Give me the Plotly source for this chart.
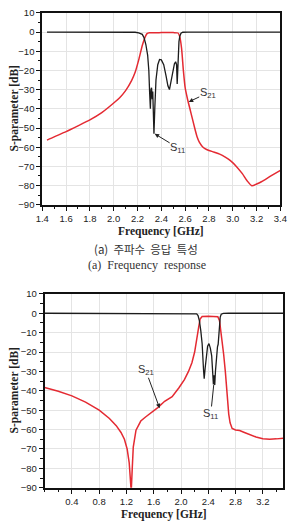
import plotly.graph_objects as go

# ---------------- data: (a) top chart ----------------
top_s21_f = [1.44, 1.5, 1.6, 1.7, 1.8, 1.9, 2.0, 2.05, 2.1, 2.15, 2.18, 2.21, 2.24, 2.26, 2.28, 2.3,
             2.4, 2.5, 2.54, 2.555, 2.57, 2.585, 2.60, 2.62, 2.64, 2.66, 2.68, 2.70, 2.72, 2.75, 2.78,
             2.84, 2.89, 2.94, 2.98, 3.03, 3.08, 3.12, 3.16, 3.2, 3.24, 3.32, 3.4]
top_s21_db = [-56.3, -54.6, -51.9, -48.9, -45.8, -42.0, -37.0, -34.2, -30.5, -25.3, -21.0, -14.5, -7.0,
              -3.2, -0.8, -0.4, -0.3, -0.3, -0.5, -2.5, -8.5, -20.0, -29.0, -35.0, -40.0, -45.0, -50.0,
              -54.5, -57.5, -60.0, -61.2, -62.5, -63.6, -65.3, -67.0, -70.0, -73.8, -77.5, -80.1, -79.2,
              -78.0, -75.0, -72.1]

top_s11_f = [1.44, 2.0, 2.18, 2.21, 2.24, 2.255, 2.27, 2.285, 2.295, 2.302, 2.308, 2.313, 2.318, 2.323,
             2.328, 2.333, 2.338, 2.345, 2.355, 2.37, 2.385, 2.40, 2.42, 2.44, 2.455, 2.468, 2.48, 2.495,
             2.51, 2.52, 2.528, 2.533, 2.537, 2.541, 2.548, 2.555, 2.565, 2.58, 2.62, 3.4]
top_s11_db = [0, 0, -0.1, -0.4, -1.2, -3.0, -6.5, -12.0, -20.0, -32.0, -40.0, -30.0, -29.0, -35.0,
              -31.0, -42.0, -53.0, -40.0, -25.0, -17.0, -14.3, -14.5, -17.0, -23.0, -28.0, -30.0, -26.0,
              -20.0, -16.5, -15.5, -17.0, -27.0, -20.0, -12.0, -5.0, -2.2, -0.6, -0.1, 0, 0]

# ---------------- data: bottom chart ----------------
bot_s21_f = [0.0, 0.2, 0.4, 0.6, 0.8, 0.95, 1.05, 1.12, 1.17, 1.21, 1.24, 1.255, 1.27, 1.285, 1.29,
             1.30, 1.34, 1.41, 1.48, 1.56, 1.66, 1.76, 1.87, 1.97, 2.05, 2.11, 2.16, 2.2, 2.235, 2.26,
             2.28, 2.31, 2.4, 2.5, 2.54, 2.565, 2.58, 2.60, 2.625, 2.65, 2.68, 2.70, 2.72, 2.75, 2.8,
             2.86, 2.93, 3.0, 3.1, 3.2, 3.3, 3.4, 3.5]
bot_s21_db = [-38.3, -40.2, -42.6, -45.8, -50.0, -54.3, -58.0, -61.5, -65.0, -70.0, -77.0, -84.0, -92.0,
              -80.0, -74.0, -69.0, -60.3, -55.6, -53.5, -51.3, -48.7, -45.4, -43.0, -38.4, -34.2, -30.0,
              -25.5, -20.0, -13.5, -7.0, -3.0, -1.7, -1.5, -1.5, -1.8, -3.9, -8.0, -13.0, -21.0, -30.0,
              -44.0, -52.0, -56.5, -59.4, -60.2, -60.5, -61.5, -62.5, -63.8, -64.7, -65.0, -64.8, -64.5]

bot_s11_f = [0.0, 2.2, 2.23, 2.25, 2.27, 2.29, 2.31, 2.33, 2.34, 2.355, 2.37, 2.39, 2.41, 2.43, 2.45,
             2.465, 2.475, 2.485, 2.495, 2.505, 2.52, 2.535, 2.545, 2.555, 2.565, 2.575, 2.59, 2.62,
             2.7, 3.5]
bot_s11_db = [0, 0, -0.3, -1.2, -3.9, -9.0, -15.7, -29.0, -33.8, -28.0, -22.0, -17.0, -15.7, -18.0,
              -22.0, -30.0, -36.7, -32.0, -37.0, -30.0, -20.0, -17.3, -16.0, -10.6, -5.0, -2.0, -0.5,
              -0.1, 0, 0]

top_xticks = [1.4, 1.6, 1.8, 2.0, 2.2, 2.4, 2.6, 2.8, 3.0, 3.2, 3.4]
bot_xticks = [0.4, 0.8, 1.2, 1.6, 2.0, 2.4, 2.8, 3.2]
yticks = [10, 0, -10, -20, -30, -40, -50, -60, -70, -80, -90]

RED = "#e42a32"
BLACK = "#1c1c1c"

fig = go.Figure()
fig.add_trace(go.Scatter(x=top_s21_f, y=top_s21_db, mode="lines",
                         line=dict(color=RED, width=1.5, shape="spline", smoothing=0.6),
                         xaxis="x", yaxis="y", showlegend=False))
fig.add_trace(go.Scatter(x=top_s11_f, y=top_s11_db, mode="lines",
                         line=dict(color=BLACK, width=1.3),
                         xaxis="x", yaxis="y", showlegend=False))
fig.add_trace(go.Scatter(x=bot_s21_f, y=bot_s21_db, mode="lines",
                         line=dict(color=RED, width=1.5),
                         xaxis="x2", yaxis="y2", showlegend=False))
fig.add_trace(go.Scatter(x=bot_s11_f, y=bot_s11_db, mode="lines",
                         line=dict(color=BLACK, width=1.3),
                         xaxis="x2", yaxis="y2", showlegend=False))

H, W = 527, 296
tickfont = dict(family="Arial", size=9.5, color="#222")
common_axis = dict(showline=True, linecolor="#111", linewidth=1.8, mirror=True,
                   ticks="outside", ticklen=4, tickwidth=1.2, tickcolor="#111",
                   showgrid=True, gridcolor="#e4e4e4", gridwidth=1, zeroline=False,
                   tickfont=tickfont)

fig.update_layout(
    width=W, height=H, margin=dict(l=0, r=0, t=0, b=0),
    paper_bgcolor="white", plot_bgcolor="white",
    xaxis=dict(domain=[37 / W, 287 / W], range=[1.4, 3.4], anchor="y",
               tickvals=top_xticks, tickformat=".1f",
               minor=dict(dtick=0.1, tick0=1.4, ticks="outside", ticklen=2.5, tickcolor="#111", showgrid=False),
               **common_axis),
    yaxis=dict(domain=[1 - 203 / H, 1 - 7 / H], range=[-90, 10], anchor="x",
               tickvals=yticks,
               minor=dict(dtick=5, tick0=0, ticks="outside", ticklen=2.5, tickcolor="#111", showgrid=False),
               **common_axis),
    xaxis2=dict(domain=[39.5 / W, 290 / W], range=[0, 3.5], anchor="y2",
                tickvals=bot_xticks, tickformat=".1f",
                minor=dict(dtick=0.2, tick0=0, ticks="outside", ticklen=2.5, tickcolor="#111", showgrid=False),
                **common_axis),
    yaxis2=dict(domain=[1 - 492 / H, 1 - 294 / H], range=[-90, 10], anchor="x2",
                tickvals=yticks,
                minor=dict(dtick=5, tick0=0, ticks="outside", ticklen=2.5, tickcolor="#111", showgrid=False),
                **common_axis),
)

titlefont = dict(family="Liberation Serif, Times New Roman, serif", size=11.5, color="#222")
lab = dict(family="Arial", size=11, color="#333")

def paper_text(text, xpx, ypx, font, angle=0):
    fig.add_annotation(text=text, x=xpx / W, y=1 - ypx / H, xref="paper", yref="paper",
                       showarrow=False, font=font, textangle=angle,
                       xanchor="center", yanchor="middle")

# axis titles
paper_text("<b>Frequency [GHz]</b>", 162, 230, titlefont)
paper_text("<b>S-parameter [dB]</b>", 8, 105, titlefont, angle=-90)
paper_text("<b>Frequency [GHz]</b>", 165, 519, titlefont)
paper_text("<b>S-parameter [dB]</b>", 8, 393, titlefont, angle=-90)

# captions
paper_text("(a)  주파수  응답  특성", 146, 248,
           dict(family="Noto Sans CJK KR", size=11.5, color="#333"))
paper_text("(a)  Frequency  response", 147, 265,
           dict(family="Liberation Serif, Times New Roman, serif", size=12, color="#333"))

# curve labels with arrows (label sits at the arrow tail)
def tagged(xr, yr, x, y, ax, ay, text, head=2):
    fig.add_annotation(x=x, y=y, xref=xr, yref=yr, text=text, showarrow=True,
                       ax=ax, ay=ay, arrowhead=head, arrowsize=0.9, arrowwidth=1,
                       arrowcolor="#222", font=lab, borderpad=0)

tagged("x", "y", 2.63, -36.4, 19, -9, "S<sub>21</sub>")
tagged("x", "y", 2.344, -53.0, 23, 14, "S<sub>11</sub>")
tagged("x2", "y2", 1.687, -49.0, -14, -38, "S<sub>21</sub>")
tagged("x2", "y2", 2.48, -37.0, -3, 29, "S<sub>11</sub>", head=0)

fig.write_html("out.html")
